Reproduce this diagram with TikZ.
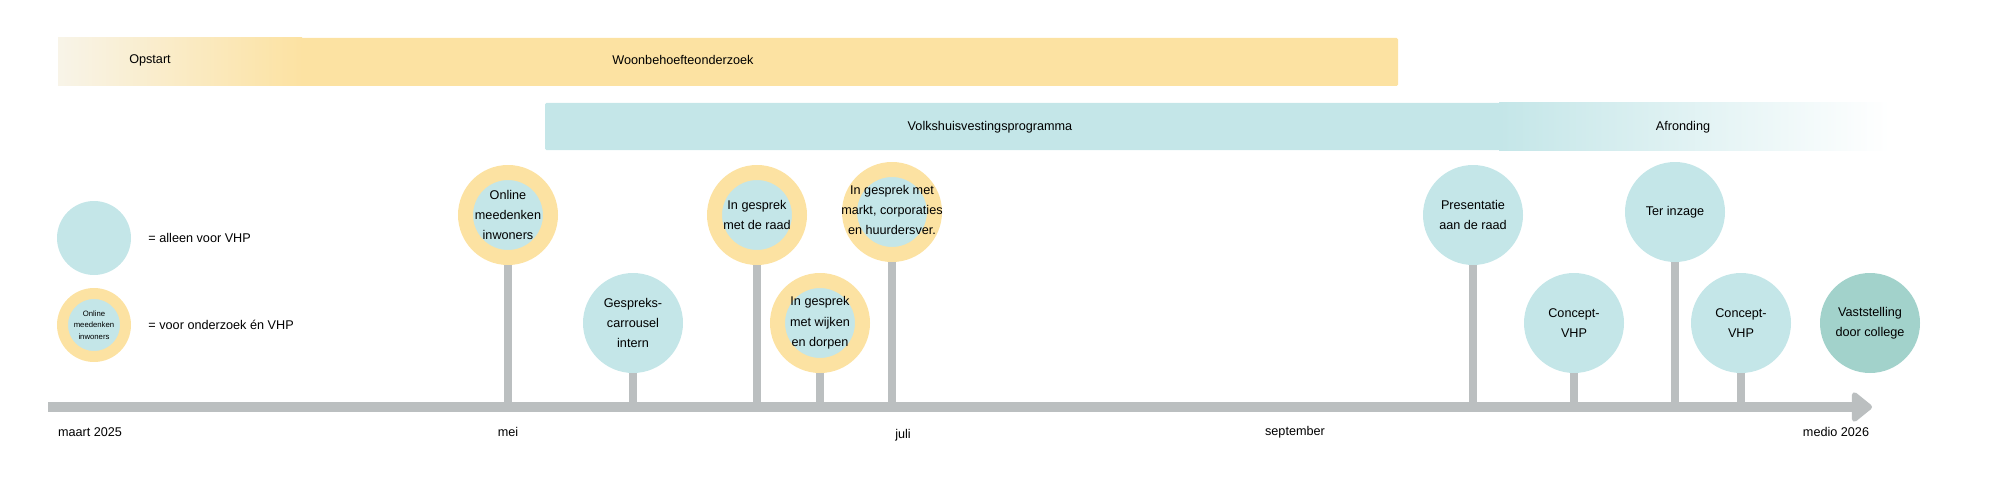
\documentclass[tikz,border=0pt]{standalone}
\usepackage{fontspec}
\setmainfont{Liberation Sans}
\usetikzlibrary{arrows.meta}
\definecolor{ylw}{HTML}{FCE2A2}
\definecolor{ylwl}{HTML}{F8F4E8}
\definecolor{blu}{HTML}{C4E6E8}
\definecolor{teal2}{HTML}{A2D2CB}
\definecolor{axisgray}{HTML}{BBBFC0}
\tikzset{
 ev/.style={circle,fill=blu,minimum size=100*0.05cm,inner sep=0pt,align=center,font=\fontsize{18}{29}\selectfont},
 evb/.style={ev,draw=ylw,line width=15*0.05cm,minimum size=85*0.05cm},
 stem/.style={axisgray,line width=8*0.05cm},
 lbl/.style={font=\fontsize{18}{29}\selectfont},
}
\begin{document}
\begin{tikzpicture}[x=0.05cm,y=-0.05cm]
\useasboundingbox (0,0) rectangle (2000,480);
% bars
\fill[ylw,rounded corners=2pt] (300,38) rectangle (1398,86);
\shade[left color=ylwl,right color=ylw] (58,38) rectangle (302,86);
\fill[blu,rounded corners=2pt] (545,103) rectangle (1500,150);
\shade[left color=blu,right color=white] (1499,103) rectangle (1890,150);
\node[lbl] (opst) at (150,60) {Opstart};
\node[lbl] (woon) at (683,60) {Woonbehoefteonderzoek};
\node[lbl] (vhp) at (990,127) {Volkshuisvestingsprogramma};
\node[lbl] (afr) at (1683,127) {Afronding};
% axis
\coordinate (a0) at (48,407);
\coordinate (a1) at (1872,407);
\draw[axisgray,line width=10*0.05cm,-{Triangle[length=22*0.05cm,width=34*0.05cm,round]}] (a0) -- (a1);
\node[lbl] (m1) at (90,432) {maart 2025};
\node[lbl] (m2) at (508,432) {mei};
\node[lbl] (m3) at (903,435) {juli};
\node[lbl] (m4) at (1295,432) {september};
\node[lbl] (m5) at (1836,432) {medio 2026};
% legend
\node[circle,fill=blu,minimum size=74*0.05cm] (l1) at (94,238) {};
\node[lbl,anchor=west] (l1t) at (146,238) {= alleen voor VHP};
\node[circle,fill=blu,draw=ylw,line width=11*0.05cm,minimum size=63*0.05cm,inner sep=0pt,align=center,font=\fontsize{11}{16}\selectfont] (l2) at (94,325) {Online\\meedenken\\inwoners};
\node[lbl,anchor=west] (l2t) at (146,325) {= voor onderzoek én VHP};
% stems
\coordinate (s1) at (508,407); \coordinate (s2) at (633,407); \coordinate (s3) at (757,407);
\coordinate (s4) at (820,407); \coordinate (s5) at (892,407); \coordinate (s6) at (1473,407);
\coordinate (s7) at (1574,407); \coordinate (s8) at (1675,407); \coordinate (s9) at (1741,407);
\coordinate (t1) at (508,215); \coordinate (t2) at (633,323); \coordinate (t3) at (757,215);
\coordinate (t4) at (820,323); \coordinate (t5) at (892,212); \coordinate (t6) at (1473,215);
\coordinate (t7) at (1574,323); \coordinate (t8) at (1675,212); \coordinate (t9) at (1741,323);
\foreach \i in {1,...,9} \draw[stem] (t\i) -- (s\i);
% events
\node[evb] (e1) at (t1) {Online\\meedenken\\inwoners};
\node[ev] (e2) at (t2) {Gespreks-\\carrousel\\intern};
\node[evb] (e3) at (t3) {In gesprek\\met de raad};
\node[evb] (e4) at (t4) {In gesprek\\met wijken\\en dorpen};
\node[evb] (e5) at (t5) {};
\node[lbl,align=center] (e5t) at (892,210) {In gesprek met\\markt, corporaties\\en huurdersver.};
\node[ev] (e6) at (t6) {Presentatie\\aan de raad};
\node[ev] (e7) at (t7) {Concept-\\VHP};
\node[ev] (e8) at (t8) {Ter inzage};
\node[ev] (e9) at (t9) {Concept-\\VHP};
\node[ev,fill=teal2] (e10) at (1870,323) {Vaststelling\\door college};
\end{tikzpicture}
\end{document}
